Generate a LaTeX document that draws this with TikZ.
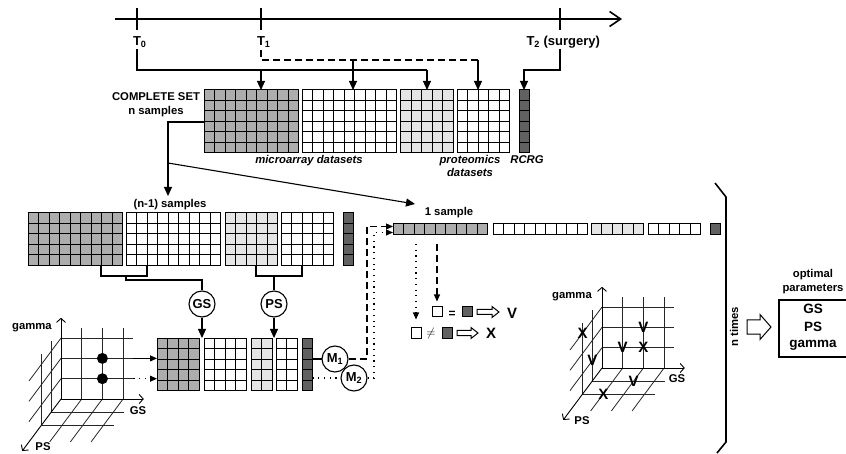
\documentclass[tikz,border=0pt]{standalone}
\usepackage{fontspec}
\setmainfont{Liberation Sans}
\usetikzlibrary{arrows.meta,calc}
\definecolor{gmed}{gray}{0.68}
\definecolor{glt}{gray}{0.9}
\definecolor{gdk}{gray}{0.38}

\newcommand{\cellgrid}[6]{%
  \node[inner sep=0pt,outer sep=0pt,fill=#6,minimum width=#4*10.5pt,minimum height=#5*10.5pt,anchor=north west] (#1) at (#2,#3) {};
  \foreach \i in {0,...,#4}{\draw[gridln] ($(#1.north west)+(\i*10.5,0)$) -- ++(0,#5*10.5);}
  \foreach \j in {0,...,#5}{\draw[gridln] ($(#1.north west)+(0,\j*10.5)$) -- ++(#4*10.5,0);}
}
\newcommand{\hollowarrow}[7]{% name, x0, yc, L, shaft half, head half, head length
  \coordinate (#1) at (#2,#3);
  \draw[line width=1pt,fill=white] ($(#1)+(0,-#5)$) -- ++(#4-#7,0) -- ++(0,-#6+#5) -- ($(#1)+(#4,0)$) -- ($(#1)+(#4-#7,#6)$) -- ++(0,-#6+#5) -- ($(#1)+(0,#5)$) -- cycle;
}

\begin{document}
\begin{tikzpicture}[x=1pt,y=-1pt,line width=1.1pt,
  lbl/.style={font=\fontsize{11.3}{13.5}\selectfont\bfseries,inner sep=0pt},
  lbli/.style={font=\fontsize{11.3}{13}\selectfont\bfseries\itshape,inner sep=0pt},
  tlbl/.style={font=\fontsize{13}{15}\selectfont\bfseries,inner sep=0pt},
  gridln/.style={line width=1pt,line cap=rect},
  arr/.style={-{Triangle[length=9pt,width=8pt]}},
  arrs/.style={-{Triangle[length=7pt,width=6pt]}},
  dsh/.style={dash pattern=on 7pt off 4pt},
  dtt/.style={dash pattern=on 1.2pt off 4.5pt},
  circ/.style={circle,draw,fill=white,minimum size=26pt,inner sep=0pt,line width=1.1pt,font=\fontsize{13}{14}\selectfont\bfseries},
  sq/.style={draw,minimum size=10pt,inner sep=0pt,line width=1pt},
  pl/.style={line width=0.8pt,black!85},
  ax/.style={line width=0.9pt,-{Straight Barb[length=4pt,width=9pt]}},
  mk/.style={font=\fontsize{15}{15}\selectfont\bfseries,inner sep=0pt},
  big/.style={font=\fontsize{13.5}{15}\selectfont\bfseries,inner sep=0pt}
]
\useasboundingbox (0,0) rectangle (846,454);

% ---------------- timeline
\coordinate (tA) at (115,19);
\coordinate (tB) at (622,19);
\draw[line width=1.6pt,-{Straight Barb[length=11pt,width=15pt,line width=1.6pt]}] (tA) -- (tB);
\coordinate (t0) at (137,19);
\coordinate (t1) at (261,19);
\coordinate (t2) at (560,19);
\foreach \t in {t0,t1,t2}{\draw[line width=1.1pt] ($(\t)+(0,-11)$) -- ($(\t)+(0,11)$);}
\node[tlbl,anchor=west] (T0) at (132.5,42) {T\textsubscript{0}};
\node[tlbl,anchor=west] (T1) at (256.5,42) {T\textsubscript{1}};
\node[tlbl,anchor=west] (T2) at (526,42) {T\textsubscript{2} (surgery)};

% ---------------- top grids
\cellgrid{g1}{204}{90}{9}{6}{gmed}
\cellgrid{g2}{302}{90}{9}{6}{white}
\cellgrid{g3}{400.5}{90}{5}{6}{glt}
\cellgrid{g4}{457}{90}{5}{6}{white}
\cellgrid{g5}{519}{90}{1}{6}{gdk}

\node[lbl,align=center,font=\fontsize{11.3}{14}\selectfont\bfseries] (cset) at (156,105) {COMPLETE SET\\n samples};
\node[lbli] (lmic) at (309,161) {microarray datasets};
\node[lbli,align=center] (lprot) at (470,166) {proteomics\\datasets};
\node[lbli] (lrc) at (527,160) {RCRG};

% top connectors
\coordinate (t0s) at (137,49);
\coordinate (jy) at (427,70);
\draw (t0s) |- (jy);
\draw[arr] (t1 |- jy) -- (t1 |- g1.north);
\draw[arr] (jy) -- (jy |- g3.north);
\coordinate (t1s) at (261,50);
\coordinate (dy) at (478,60);
\draw[dsh] (t1s) |- (dy);
\draw[arr] (dy) -- (dy |- g4.north);
\coordinate (dm) at (353,60);
\draw[arr] (dm) -- (dm |- g2.north);
\coordinate (t2s) at (560,49);
\coordinate (t2c) at (524,70);
\draw[arr] (t2s) |- (t2c) -- (t2c |- g5.north);

% complete set connectors
\coordinate (cc) at (168,122);
\coordinate (nt1) at (168,196);
\draw[arr] (g1.west |- cc) -| (nt1);
\coordinate (sl0) at (168,163);
\coordinate (sl1) at (415,204);
\draw[arr] (sl0) -- (sl1);

% ---------------- middle grids
\node[lbl] (lnm1) at (170,205) {(n-1) samples};
\cellgrid{m1}{28}{213}{9}{5}{gmed}
\cellgrid{m2}{126}{213}{9}{5}{white}
\cellgrid{m3}{225}{213}{5}{5}{glt}
\cellgrid{m4}{281}{213}{5}{5}{white}
\cellgrid{m5}{343}{213}{1}{5}{gdk}

% brackets
\coordinate (bA1) at (101,276);
\coordinate (bA2) at (147,276);
\coordinate (bA3) at (126,276);
\coordinate (bA4) at (126,280);
\draw (bA1 |- m1.south) -- (bA1) -- (bA2) -- (bA2 |- m2.south);
\coordinate (bB1) at (256,276);
\coordinate (bB2) at (302,276);
\coordinate (bB3) at (274,276);
\draw (bB1 |- m3.south) -- (bB1) -- (bB2) -- (bB2 |- m4.south);

% ---------------- bottom grids
\cellgrid{b1}{157}{338}{4}{5}{gmed}
\cellgrid{b2}{204}{338}{4}{5}{white}
\cellgrid{b3}{251}{338}{2}{5}{glt}
\cellgrid{b4}{276}{338}{2}{5}{white}
\cellgrid{b5}{302}{338}{1}{5}{gdk}

\node[circ] (gsc) at (202,304) {GS};
\node[circ] (psc) at (274,304) {PS};
\draw (bA3) -- (bA4) -| (gsc.north);
\draw (bB3) -- (psc.north);
\draw[arr] (gsc.south) -- (gsc.south |- b1.north);
\draw[arr] (psc.south) -- (psc.south |- b3.north);

% M1 / M2
\coordinate (my1) at (335,359);
\coordinate (my2) at (354,378);
\draw (b5.east |- my1) -- (my1);
\draw[dtt] (b5.east |- my2) -- (my2);
\node[circ] (mc1) at (my1) {M\textsubscript{1}};
\node[circ] (mc2) at (my2) {M\textsubscript{2}};

% ---------------- single sample row
\node[lbl] (l1s) at (449,213) {1 sample};
\cellgrid{s1}{393}{224}{9}{1}{gmed}
\cellgrid{s2}{493}{224}{9}{1}{white}
\cellgrid{s3}{591}{224}{5}{1}{glt}
\cellgrid{s4}{648}{224}{5}{1}{white}
\cellgrid{s5}{710}{224}{1}{1}{gdk}

\coordinate (dv) at (367,359);
\coordinate (sd) at (393,226.5);
\draw[dsh,arrs] (mc1.east) -- (dv) -- (dv |- sd) -- (sd);
\coordinate (dw) at (374,378);
\coordinate (se) at (393,232.5);
\draw[dtt,arrs] (mc2.east) -- (dw) -- (dw |- se) -- (se);

% ---------------- comparisons
\node[sq,fill=white] (w1) at (437,312) {};
\node[lbl,font=\fontsize{12}{12}\selectfont\bfseries] (eq) at (452,314.5) {=};
\node[sq,fill=gdk] (k1) at (467,312) {};
\hollowarrow{ha1}{477}{312}{22}{2.5}{5.5}{7}
\node[mk] (v1) at (512,313) {V};

\node[sq,fill=white] (w2) at (416,333) {};
\node[inner sep=0pt,font=\large] (neq) at (431,333) {$\neq$};
\node[sq,fill=gdk] (k2) at (447,333) {};
\hollowarrow{ha2}{457}{333}{21}{2.5}{5.5}{7}
\node[mk] (x1) at (491,333) {X};

\coordinate (dd1) at (416,244);
\coordinate (dd2) at (437,244);
\draw[dtt,arrs,shorten >=8pt] (dd1) -- (dd1 |- w2.north);
\draw[dsh,arrs,shorten >=5pt] (dd2) -- (dd2 |- w1.north);

% ---------------- left 3D plot
\begin{scope}[shift={(61,399)},x={(20.7pt,0pt)},y={(0pt,20.3pt)},z={(-9.7pt,-13pt)}]
  \foreach \g in {1,2,3}{\draw[pl] (\g,0,0) -- (\g,3.5,0);}
  \foreach \c in {1,2,3}{\draw[pl] (0,\c,0) -- (3.5,\c,0);}
  \foreach \g in {1,2,3}{\draw[pl] (\g,0,0) -- (\g,0,3.3);}
  \foreach \p in {1,2}{\draw[pl] (0,0,\p) -- (3.5,0,\p);}
  \foreach \c in {1,2,3}{\draw[pl] (0,\c,0) -- (0,\c,3.3);}
  \foreach \p in {1,2}{\draw[pl] (0,0,\p) -- (0,3.5,\p);}
  \draw[ax] (0,0,0) -- (0,4,0);
  \draw[ax] (0,0,0) -- (4,0,0);
  \draw[ax] (0,0,0) -- (0,0,4);
  \node[circle,fill=black,inner sep=0pt,minimum size=11pt] (dot1) at (2,2,0) {};
  \node[circle,fill=black,inner sep=0pt,minimum size=11pt] (dot2) at (2,1,0) {};
  \coordinate (pa) at (3.5,2,0);
  \coordinate (pb) at (3.5,1,0);
\end{scope}
\node[lbl] (lg1) at (32,328) {gamma};
\node[lbl] (lgs1) at (138,411) {GS};
\node[lbl] (lps1) at (43,447) {PS};
\draw[arrs] (pa) -- (pa -| b1.west);
\draw[dtt,arrs] (pb) -- (pb -| b1.west);

% ---------------- right 3D plot
\begin{scope}[shift={(602,368)},x={(20.7pt,0pt)},y={(0pt,20.3pt)},z={(-9.7pt,-13pt)}]
  \foreach \g in {1,2,3}{\draw[pl] (\g,0,0) -- (\g,3.5,0);}
  \foreach \c in {1,2,3}{\draw[pl] (0,\c,0) -- (3.5,\c,0);}
  \foreach \g in {1,2,3}{\draw[pl] (\g,0,0) -- (\g,0,3.3);}
  \foreach \p in {1,2}{\draw[pl] (0,0,\p) -- (3.5,0,\p);}
  \foreach \c in {1,2,3}{\draw[pl] (0,\c,0) -- (0,\c,3.3);}
  \foreach \p in {1,2}{\draw[pl] (0,0,\p) -- (0,3.5,\p);}
  \draw[ax] (0,0,0) -- (0,4,0);
  \draw[ax] (0,0,0) -- (4,0,0);
  \draw[ax] (0,0,0) -- (0,0,4);
  \node[mk] (mx1) at (0,3,2) {X};
  \node[mk] (mv1) at (0,1,1) {V};
  \node[mk] (mv2) at (1,1,0) {V};
  \node[mk] (mv3) at (2,2,0) {V};
  \node[mk] (mx2) at (2,1,0) {X};
  \node[mk] (mv4) at (2,0,1) {V};
  \node[mk] (mx3) at (1,0,2) {X};
\end{scope}
\node[lbl] (lg2) at (572,297) {gamma};
\node[lbl] (lgs2) at (677,379) {GS};
\node[lbl] (lps2) at (582,421) {PS};

% ---------------- bracket, n times, result
\coordinate (br1) at (715,183);
\coordinate (br2) at (726,197);
\coordinate (br3) at (726,442);
\coordinate (br4) at (717,453);
\draw[line width=1.6pt] (br1) -- (br2) -- (br3) -- (br4);
\node[lbl,rotate=90] (ntimes) at (734,327) {n times};
\hollowarrow{hab}{747}{327}{24}{7}{12.5}{11}
\node[draw,line width=1.6pt,inner sep=0pt,minimum width=74pt,minimum height=57pt,anchor=north west] (box) at (778,299) {};
\node[big] (bgs) at (813,309) {GS};
\node[big] (bps) at (813,327) {PS};
\node[big] (bgm) at (813,345) {gamma};
\node[lbl] (lopt) at (813,275) {optimal};
\node[lbl] (lpar) at (813,289) {parameters};
\end{tikzpicture}
\end{document}
